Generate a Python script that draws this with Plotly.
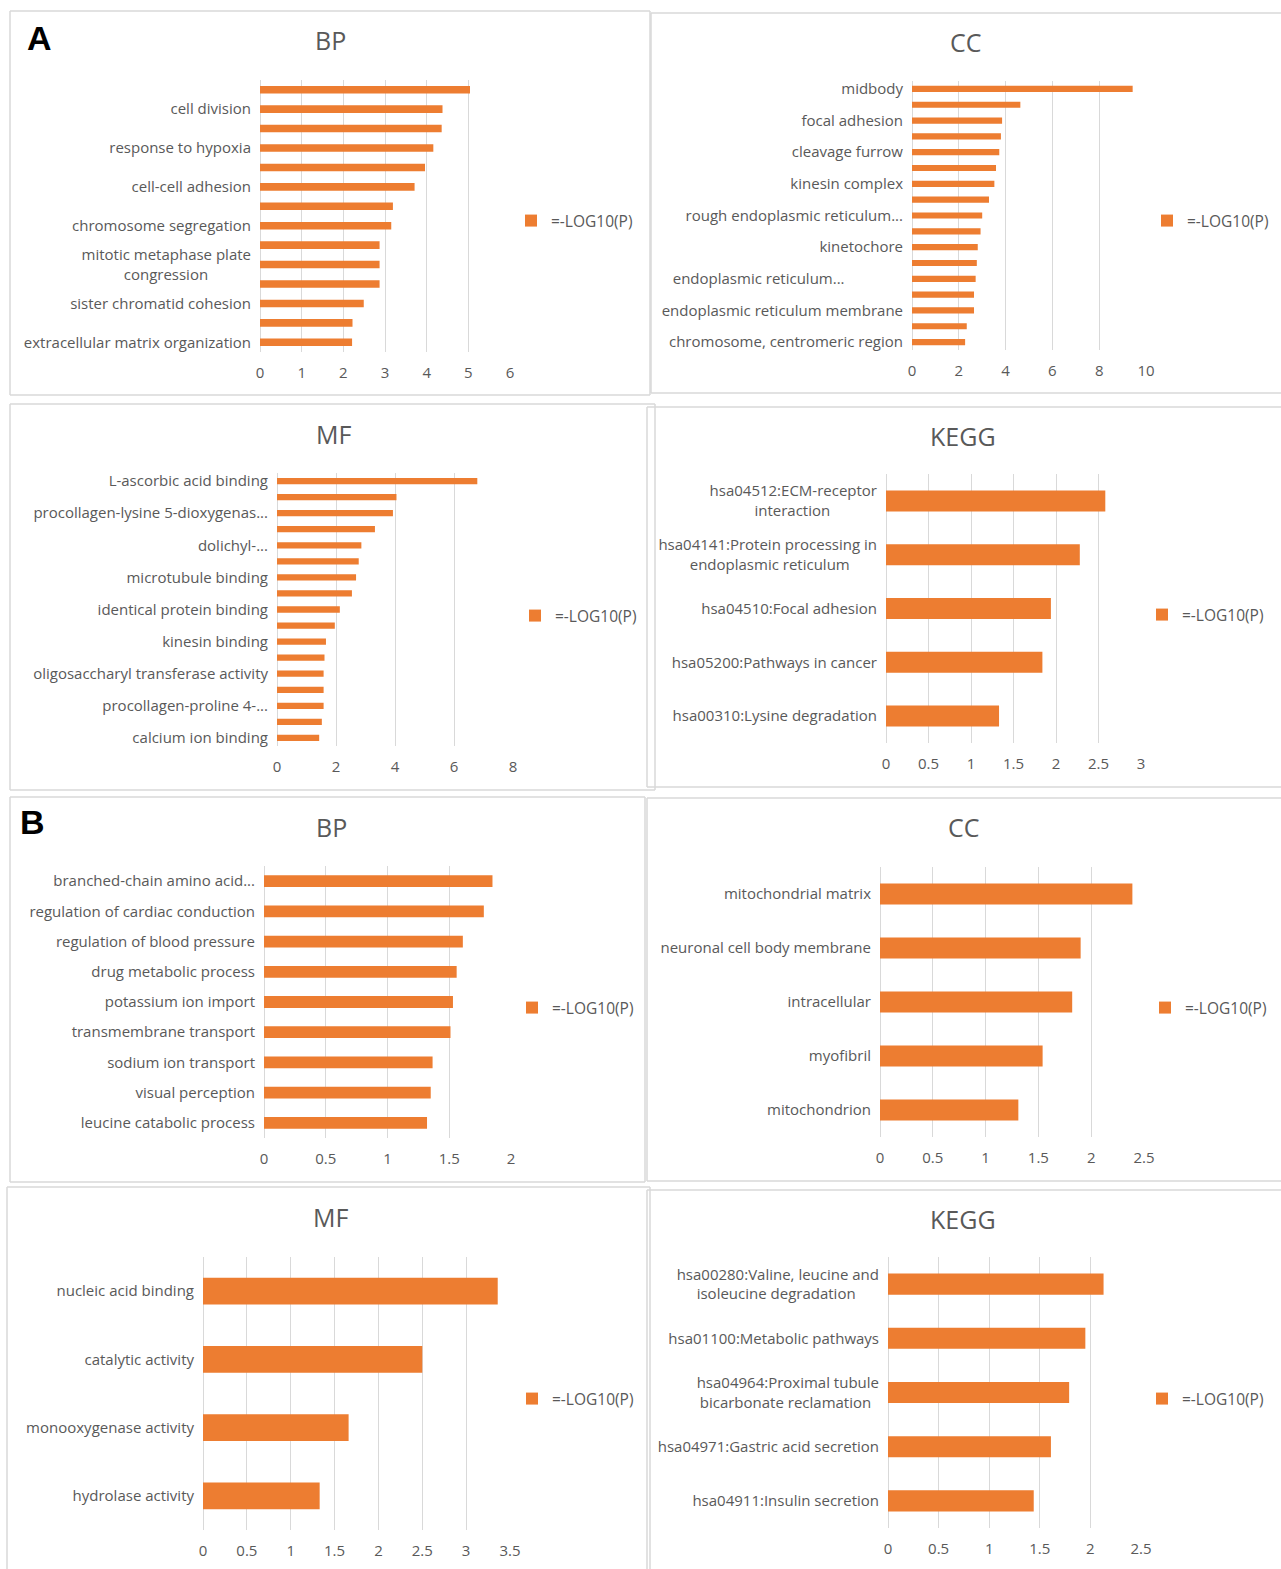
import plotly.graph_objects as go

# ---------------- data (top-to-bottom order as displayed) ----------------
A_BP_labels = ["", "cell division", "", "response to hypoxia", "", "cell-cell adhesion", "",
               "chromosome segregation", "", "mitotic metaphase plate<br>congression", "",
               "sister chromatid cohesion", "", "extracellular matrix organization"]
A_BP_values = [5.04, 4.38, 4.36, 4.16, 3.96, 3.71, 3.19, 3.15, 2.87, 2.87, 2.87, 2.49, 2.22, 2.21]

A_CC_labels = ["midbody", "", "focal adhesion", "", "cleavage furrow", "", "kinesin complex", "",
               "rough endoplasmic reticulum...", "", "kinetochore", "", "endoplasmic reticulum...", "",
               "endoplasmic reticulum membrane", "", "chromosome, centromeric region"]
A_CC_values = [9.43, 4.63, 3.85, 3.80, 3.73, 3.59, 3.52, 3.29, 3.00, 2.93, 2.81, 2.77, 2.72, 2.65,
               2.65, 2.34, 2.27]

A_MF_labels = ["L-ascorbic acid binding", "", "procollagen-lysine 5-dioxygenas...", "", "dolichyl-...", "",
               "microtubule binding", "", "identical protein binding", "", "kinesin binding", "",
               "oligosaccharyl transferase activity", "", "procollagen-proline 4-...", "",
               "calcium ion binding"]
A_MF_values = [6.79, 4.05, 3.93, 3.32, 2.86, 2.77, 2.68, 2.54, 2.13, 1.96, 1.66, 1.61, 1.58, 1.58,
               1.58, 1.52, 1.43]

A_KEGG_labels = ["hsa04512:ECM-receptor<br>interaction",
                 "hsa04141:Protein processing in<br>endoplasmic reticulum",
                 "hsa04510:Focal adhesion", "hsa05200:Pathways in cancer",
                 "hsa00310:Lysine degradation"]
A_KEGG_values = [2.58, 2.28, 1.94, 1.84, 1.33]

B_BP_labels = ["branched-chain amino acid...", "regulation of cardiac conduction",
               "regulation of blood pressure", "drug metabolic process", "potassium ion import",
               "transmembrane transport", "sodium ion transport", "visual perception",
               "leucine catabolic process"]
B_BP_values = [1.85, 1.78, 1.61, 1.56, 1.53, 1.51, 1.365, 1.35, 1.32]

B_CC_labels = ["mitochondrial matrix", "neuronal cell body membrane", "intracellular", "myofibril",
               "mitochondrion"]
B_CC_values = [2.39, 1.90, 1.82, 1.54, 1.31]

B_MF_labels = ["nucleic acid binding", "catalytic activity", "monooxygenase activity",
               "hydrolase activity"]
B_MF_values = [3.36, 2.50, 1.66, 1.33]

B_KEGG_labels = ["hsa00280:Valine, leucine and<br>isoleucine degradation",
                 "hsa01100:Metabolic pathways",
                 "hsa04964:Proximal tubule<br>bicarbonate reclamation",
                 "hsa04971:Gastric acid secretion", "hsa04911:Insulin secretion"]
B_KEGG_values = [2.13, 1.95, 1.79, 1.61, 1.44]

titles = ["BP", "CC", "MF", "KEGG", "BP", "CC", "MF", "KEGG"]
series_name = "=-LOG10(P)"
axis_max = [6, 10, 8, 3, 2, 2.5, 3.5, 2.5]
axis_dtick = [1, 2, 2, 0.5, 0.5, 0.5, 0.5, 0.5]

# ---------------- layout / style ----------------
W, H = 1281, 1569
ORANGE = "#ED7D31"
GRID = "#D9D9D9"
TXT = "#595959"
FONT = "Open Sans"

# plot areas in pixels: x of 0, x of max, top, bottom
plot_px = [
    (260, 510, 80, 352),
    (912, 1146, 81, 350),
    (277, 513, 473, 746),
    (886, 1141, 474, 743),
    (264, 511, 866, 1138),
    (880, 1144, 867, 1137),
    (203, 510, 1257, 1530),
    (888, 1141, 1257, 1528),
]
title_px = [(330, 40), (966, 42), (333, 434), (963, 436), (331, 827), (964, 827), (330, 1217), (963, 1219)]
legend_px = [(551, 221), (1187, 221), (555, 616), (1182, 615), (552, 1008), (1185, 1008), (552, 1399), (1182, 1399)]
# panel frames: left, top, right, bottom (None = edge runs off the picture)
box_px = [
    (10, 11, 650, 395), (651, 13, None, 393),
    (10, 404, 655, 790), (647, 407, None, 787),
    (10, 797, 645, 1182), (647, 798, None, 1181),
    (7, 1187, 650, None), (647, 1190, None, None),
]
# right-side padding (non-breaking spaces) to imitate centred wrapped lines
line_pad = {"congression": 11, "interaction": 12, "endoplasmic reticulum": 7,
            "isoleucine degradation": 6, "bicarbonate reclamation": 2,
            "endoplasmic reticulum...": 15}

def padded(label):
    lines = label.split("<br>")
    return "<br>".join(l + "\u00a0" * line_pad.get(l, 0) for l in lines)

panels = [
    (A_BP_labels, A_BP_values), (A_CC_labels, A_CC_values),
    (A_MF_labels, A_MF_values), (A_KEGG_labels, A_KEGG_values),
    (B_BP_labels, B_BP_values), (B_CC_labels, B_CC_values),
    (B_MF_labels, B_MF_values), (B_KEGG_labels, B_KEGG_values),
]

fig = go.Figure()
layout = dict(width=W, height=H, autosize=False,
              margin=dict(l=0, r=0, t=0, b=0, pad=0, autoexpand=False),
              paper_bgcolor="white", plot_bgcolor="white",
              font=dict(family=FONT, color=TXT, size=15),
              bargap=0.61, showlegend=True)
annotations = []
shapes = []

for i, (labels, values) in enumerate(panels):
    k = "" if i == 0 else str(i + 1)
    n = len(values)
    idx = list(range(n))
    lg = "legend" if i == 0 else f"legend{i + 1}"
    fig.add_trace(go.Bar(
        x=values, y=idx, orientation="h", name=series_name,
        marker=dict(color=ORANGE, line=dict(width=0)),
        xaxis="x" + k, yaxis="y" + k, legend=lg, showlegend=True,
    ))
    x0, x1, yt, yb = plot_px[i]
    layout["xaxis" + k] = dict(
        domain=[x0 / W, x1 / W], range=[0, axis_max[i]], tick0=0, dtick=axis_dtick[i],
        showgrid=True, gridcolor=GRID, gridwidth=1, zeroline=True, zerolinecolor=GRID,
        zerolinewidth=1, showline=False, ticks="", anchor="y" + k, fixedrange=True,
        automargin=False,
        tickfont=dict(family=FONT, size=15, color=TXT), ticklabelstandoff=10,
    )
    tv = [j for j in idx if labels[j]]
    layout["yaxis" + k] = dict(
        domain=[1 - yb / H, 1 - yt / H], range=[n - 0.5, -0.5],
        tickmode="array", tickvals=tv, ticktext=[padded(labels[j]) for j in tv],
        showgrid=False, zeroline=False, showline=False, ticks="", anchor="x" + k,
        fixedrange=True, automargin=False,
        tickfont=dict(family=FONT, size=15, color=TXT), ticklabelstandoff=8,
    )
    lx, ly = legend_px[i]
    layout[lg] = dict(x=(lx - 40) / W, y=1 - ly / H, xanchor="left", yanchor="middle",
                      xref="paper", yref="paper", bgcolor="rgba(0,0,0,0)",
                      font=dict(family=FONT, size=15.5, color=TXT))
    tx, ty = title_px[i]
    annotations.append(dict(text=titles[i], x=tx / W, y=1 - ty / H, xref="paper", yref="paper",
                            xanchor="center", yanchor="middle", showarrow=False,
                            font=dict(family=FONT, size=25, color=TXT)))
    # frame drawn as an open path so nothing extends past the page
    bx0, by0, bx1, by1 = box_px[i]
    fx0, fy0 = bx0 / W, 1 - by0 / H
    fx1 = 1.0 if bx1 is None else bx1 / W
    fy1 = 0.0 if by1 is None else 1 - by1 / H
    segs = [((fx0, fy0), (fx1, fy0)), ((fx0, fy0), (fx0, fy1))]
    if bx1 is not None:
        segs.append(((fx1, fy0), (fx1, fy1)))
    if by1 is not None:
        segs.append(((fx0, fy1), (fx1, fy1)))
    for (ax, ay), (bx, by) in segs:
        shapes.append(dict(type="line", xref="paper", yref="paper", x0=ax, y0=ay, x1=bx, y1=by,
                           line=dict(color=GRID, width=1.5), layer="below"))

for letter, (lx, ly) in {"A": (39, 38), "B": (32, 822)}.items():
    annotations.append(dict(text=f"<b>{letter}</b>", x=lx / W, y=1 - ly / H, xref="paper", yref="paper",
                            xanchor="center", yanchor="middle", showarrow=False,
                            font=dict(family="Liberation Sans", size=34, color="black")))

layout["annotations"] = annotations
layout["shapes"] = shapes
fig.update_layout(**layout)
fig.write_html("out.html",
               post_script="document.body.style.margin='0';document.body.style.overflow='hidden';")
